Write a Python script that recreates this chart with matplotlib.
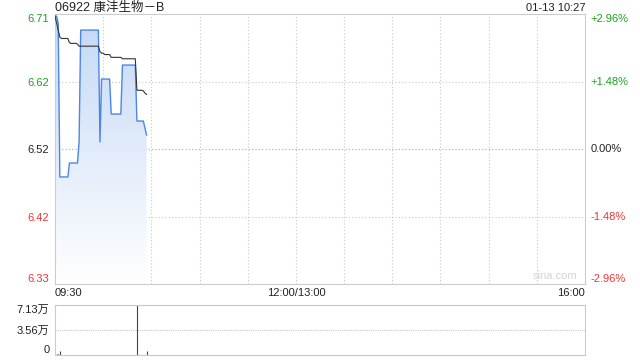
import numpy as np
import matplotlib.pyplot as plt
from matplotlib.colors import LinearSegmentedColormap
from matplotlib.transforms import blended_transform_factory

plt.rcParams['font.family'] = ['Liberation Sans', 'Noto Sans CJK SC', 'DejaVu Sans']

# ── DATA ─────────────────────────────────────────────
title = "06922 康沣生物－B"
stamp = "01-13 10:27"
prev_close = 6.52
total_minutes = 330          # 09:30-12:00 + 13:00-16:00

# minute-by-minute price from 09:30 to 10:27
price = [6.71, 6.71, 6.70, 6.48, 6.48, 6.48, 6.48, 6.48, 6.48, 6.50,
         6.50, 6.50, 6.50, 6.50, 6.50, 6.53, 6.69, 6.69, 6.69, 6.69,
         6.69, 6.69, 6.69, 6.69, 6.69, 6.69, 6.69, 6.69, 6.53, 6.62,
         6.62, 6.62, 6.62, 6.62, 6.62, 6.57, 6.57, 6.57, 6.57, 6.57,
         6.57, 6.57, 6.64, 6.64, 6.64, 6.64, 6.64, 6.64, 6.64, 6.64,
         6.64, 6.56, 6.56, 6.56, 6.56, 6.56, 6.55, 6.54]
avg_price = [6.71, 6.70, 6.69, 6.680, 6.678, 6.678, 6.678, 6.678, 6.678, 6.672,
             6.671, 6.671, 6.671, 6.671, 6.670, 6.667, 6.667, 6.667, 6.667, 6.667,
             6.667, 6.667, 6.667, 6.667, 6.667, 6.667, 6.667, 6.667, 6.659, 6.657,
             6.657, 6.655, 6.655, 6.655, 6.655, 6.651, 6.651, 6.651, 6.651, 6.651,
             6.651, 6.651, 6.649, 6.649, 6.649, 6.649, 6.649, 6.649, 6.649, 6.649,
             6.649, 6.604, 6.604, 6.604, 6.604, 6.603, 6.600, 6.598]
volume = [900, 1200, 800, 6000, 700, 600, 500, 400, 600, 500,
          400, 500, 300, 400, 500, 600, 700, 500, 400, 300,
          400, 500, 300, 400, 300, 500, 400, 300, 600, 500,
          400, 300, 400, 500, 300, 400, 300, 500, 400, 300,
          400, 300, 500, 400, 300, 400, 300, 500, 400, 300,
          400, 71300, 500, 400, 300, 400, 500, 5000]

pct_levels = [0.0296, 0.0148, 0.0, -0.0148, -0.0296]
pct_labels = ["+2.96%", "+1.48%", "0.00%", "-1.48%", "-2.96%"]
vol_ticks = [0, 35650, 71300]
vol_labels = ["0", "3.56万", "7.13万"]
time_labels = [(0, "09:30", "left"), (150, "12:00/13:00", "center"), (330, "16:00", "right")]

GREEN = "#1ba31b"
RED = "#f03434"
BLUE = "#4a86e8"
GRID = "#c8c8c8"
BORDER = "#cccccc"
TXT = "#222222"

minutes = np.arange(len(price))
levels = [prev_close * (1 + p) for p in pct_levels]
lab_colors = [GREEN, GREEN, TXT, RED, RED]

fig = plt.figure(figsize=(6.4, 3.6), dpi=100)
ax = fig.add_axes([55 / 640, 1 - 284 / 360, 530 / 640, 270 / 360])
axv = fig.add_axes([55 / 640, 1 - 355 / 360, 530 / 640, 50 / 360])

# ── PRICE PANEL ──────────────────────────────────────
ax.set_xlim(0, total_minutes)
ax.set_ylim(levels[-1], levels[0])

for m in range(30, total_minutes, 30):
    ax.axvline(m, color=GRID, lw=0.8, ls=(0, (1, 2)), zorder=0)
for lv, p in zip(levels[1:-1], pct_levels[1:-1]):
    ax.axhline(lv, color="#a8a8a8" if p == 0 else GRID, lw=0.8,
               ls=(0, (1, 2)), zorder=0)

fill = ax.fill_between(minutes, price, levels[-1], color="none", lw=0)
grad = np.linspace(0, 1, 256).reshape(-1, 1)
cmap = LinearSegmentedColormap.from_list("g", ["#ffffff", "#c4d8f6"])
img = ax.imshow(grad, cmap=cmap, origin="lower", aspect="auto",
                extent=[0, minutes[-1], levels[-1], levels[0]], zorder=1)
img.set_clip_path(fill.get_paths()[0], transform=ax.transData)

ax.plot(minutes, price, color=BLUE, lw=1.0, zorder=3)
ax.plot(minutes, avg_price, color="#333333", lw=0.8, zorder=4)

ax.set_xticks([])
ax.set_yticks(levels)
ax.set_yticklabels([f"{lv:.2f}" for lv in levels], fontsize=8)
for t, c in zip(ax.get_yticklabels(), lab_colors):
    t.set_color(c)
ax.get_yticklabels()[0].set_va("top")
ax.get_yticklabels()[-1].set_va("bottom")
ax.tick_params(axis="y", length=0, pad=4)

tr = blended_transform_factory(ax.transAxes, ax.transData)
for i, (lv, lab) in enumerate(zip(levels, pct_labels)):
    va = "top" if i == 0 else ("bottom" if i == len(levels) - 1 else "center")
    ax.text(1.01, lv, lab, transform=tr, fontsize=8, color=lab_colors[i],
            ha="left", va=va)

for sp in ax.spines.values():
    sp.set_color(BORDER)
    sp.set_linewidth(0.8)

for m, lab, ha in time_labels:
    ax.text(m, -0.015, lab, transform=blended_transform_factory(ax.transData, ax.transAxes),
            ha=ha, va="top", fontsize=8, color=TXT)

ax.text(0, 1.011, title, transform=ax.transAxes, ha="left", va="baseline",
        fontsize=9, color=TXT)
ax.text(1, 1.011, stamp, transform=ax.transAxes, ha="right", va="baseline",
        fontsize=8, color=TXT)
ax.text(0.985, 0.01, "sina.com", transform=ax.transAxes, ha="right", va="bottom",
        fontsize=8, color="#d4d4d4")

# ── VOLUME PANEL ─────────────────────────────────────
axv.set_xlim(0, total_minutes)
axv.set_ylim(0, vol_ticks[-1])
axv.vlines(minutes, 0, volume, color="#444444", lw=0.8)
axv.axhline(vol_ticks[1], color=GRID, lw=0.8, ls=(0, (1, 1)), zorder=0)
axv.set_xticks([])
axv.set_yticks(vol_ticks)
axv.set_yticklabels(vol_labels, fontsize=8, color=TXT)
axv.get_yticklabels()[0].set_va("bottom")
axv.get_yticklabels()[-1].set_va("top")
axv.tick_params(axis="y", length=0, pad=4)
for side in ["left", "right"]:
    axv.spines[side].set_color(BORDER)
    axv.spines[side].set_linewidth(0.8)
for side in ["top", "bottom"]:
    axv.spines[side].set_color(GRID)
    axv.spines[side].set_linewidth(0.8)
    axv.spines[side].set_linestyle((0, (1, 1)))

fig.savefig("out.png", dpi=100)
